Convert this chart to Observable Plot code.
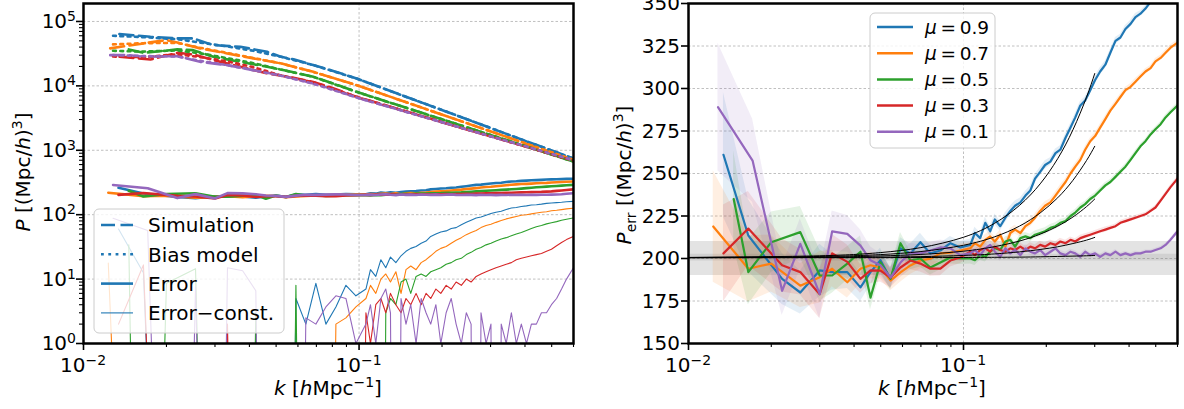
<!DOCTYPE html>
<html><head><meta charset="utf-8">
<script src="https://cdn.jsdelivr.net/npm/d3@7"></script>
<script src="https://cdn.jsdelivr.net/npm/@observablehq/plot@0.6"></script>
<style>
body{margin:0;background:#fff;}
#wrap{position:relative;width:1184px;height:409px;overflow:hidden;font-family:"DejaVu Sans";}
#wrap svg{position:absolute;}
</style></head><body><div id="wrap"></div>
<script>
// ---------- data ----------
const muLabels = ["0.9", "0.7", "0.5", "0.3", "0.1"];
const muColors = ["#1f77b4", "#ff7f0e", "#2ca02c", "#d62728", "#9467bd"];

// k grid shared by the error spectra (h/Mpc)
const kGrid = [0.0123,0.0128,0.0134,0.0146,0.0165,0.0171,0.0200,0.0219,0.0255,0.0300,0.0333,0.0378,0.0422,0.0459,
  0.0499,0.0543,0.0590,0.0641,0.0697,0.0758,0.0824,0.0896,0.0974,
  0.1059,0.110,0.115,0.120,0.125,0.130,0.136,0.142,0.148,0.154,0.161,0.168,0.175,0.182,0.190,0.198,0.207,0.216,0.225,0.235,
  0.245,0.255,0.266,0.277,0.289,0.301,0.314,0.328,0.342,0.357,0.372,0.388,0.405,0.422,0.440,0.459,0.479,0.499,0.521,0.543,0.566,0.600];

// P_err per mu (null = no value in that bin)
const perrMu09 = [null,null,261,null,213.5,null,null,188,180,193,192,192,183,192,
  199,188,206,203,209.6,203,204.7,209,206.5,
  208,215,212,221,216,223,219,224,228,231,233,237,240,247,251,255,257,262,264,271,
  277,283,290,293,299,305,310,314,321,328,330,335,338,342,344,347,351,353,355,357,360,362];
const perrMu07 = [218.8,null,null,null,194,null,197,null,184,189,194,186,194,196,
  194.7,187,191.8,195.9,198.8,199.9,203,203.5,204.7,
  206,209,207,211,213,210,214,207,215,217,215,219,221,224,228,231,233,237,241,245,
  250,254,258,264,269,272,277,282,287,291,295,299,301,304,307,310,312,316,318,321,324,327];
const perrMu05 = [null,null,null,235,192,null,209.6,null,215.5,190,190,197,204,177,
  197.8,188,209,198.8,200,194.7,197.6,200.6,200,
  200,199,202,201,204,206,205,210,211,207,212,213,212,214,215,216,218,219,221,222,
  225,227,230,232,235,237,240,243,245,248,251,254,258,262,266,269,273,276,279,283,286,290];
const perrMu03 = [null,null,203,null,217.6,null,null,196,192,179,203,198,188,193,
  192.9,188.8,194.7,198.8,197,194,194,198.8,200.6,
  204,202,205,206,204,207,205,204,206,205,207,205,207,206,208,207,209,208,210,209,
  211,210,212,213,214,215,216,217,218,219,221,222,223,224,225,226,228,230,234,238,242,247];
const perrMu01 = [null,289,null,null,null,257.6,null,181,208.6,179,216,214.5,207.6,199,
  196,188.8,197.6,203.5,203,204.7,206.5,206,202,
  203,205,202,206,208,204,201,206,203,205,202,206,204,203,205,202,204,206,203,202,
  204,203,201,204,202,203,201,203,202,204,202,203,202,203,203,204,204,205,206,208,211,216];
// relative half-width of the shaded scatter band, per k bin
const errFrac = [0.15,0.13,0.14,0.12,0.10,0.095,0.085,0.08,0.07,0.08,0.055,0.05,0.045,0.04,
  0.035,0.032,0.03,0.027,0.025,0.023,0.021,0.019,0.018,
  0.016,0.016,0.015,0.015,0.014,0.014,0.013,0.013,0.012,0.012,0.011,0.011,0.011,0.010,0.010,0.010,0.009,0.009,0.009,0.008,
  0.008,0.008,0.008,0.007,0.007,0.007,0.007,0.007,0.006,0.006,0.006,0.006,0.006,0.006,0.005,0.005,0.005,0.005,0.005,0.005,0.005,0.005];
const errConst = 201;

// simulation power spectra (left panel, dashed)
const simK = [0.0125,0.0135,0.0146,0.0165,0.0175,0.0200,0.0219,0.0250,0.0265,0.0296,0.0332,0.0371,0.0414,0.0464,
  0.0517,0.0578,0.0682,0.0800,0.098,0.13,0.17,0.23,0.32,0.42,0.5,0.6];
const simMu09 = [null,63700,null,null,57800,null,54600,54600,null,42900,null,40400,null,33800,
  28500,25800,21000,17200,13000,8320,5440,3380,2000,1300,990,743];
const simMu07 = [38200,null,null,45600,null,51400,47000,null,38200,null,31900,null,26700,null,
  22500,19800,16500,13400,10250,6760,4550,2910,1790,1200,929,712];
const simMu05 = [null,null,36800,32600,null,null,36800,35900,null,28300,null,23600,null,19800,
  18000,16300,13800,11000,8070,5460,3780,2500,1585,1090,858,670];
const simMu03 = [null,28300,null,null,25700,null,32600,30700,null,25100,null,19800,null,15600,
  14500,13300,11500,9300,6750,4730,3370,2290,1520,1080,866,690];
const simMu01 = [30000,null,30000,28300,null,null,29000,null,23600,null,21000,null,17500,null,
  14700,13000,10900,8900,6600,4650,3330,2290,1520,1090,878,700];

// bias model (left panel, dotted)
const biasK = [0.0128,0.0165,0.0219,0.0265,0.0332,0.0414,0.0517,0.0682,0.098,0.13,0.17,0.23,0.32,0.42,0.5,0.6];
const biasMu09 = [60000,57000,53000,47000,41000,35000,28500,21000,13000,8300,5450,3380,2000,1300,990,743];
const biasMu07 = [44000,46000,46500,39000,32500,27000,22500,16500,10250,6760,4550,2910,1790,1200,930,712];
const biasMu05 = [35000,34000,35500,32000,27000,22500,18000,13800,8070,5460,3780,2500,1585,1090,858,670];
const biasMu03 = [28500,28000,31000,28000,24000,19500,14600,11400,6750,4730,3370,2290,1520,1080,866,690];
const biasMu01 = [30000,29000,28500,24500,21000,17500,14500,10800,6600,4650,3330,2290,1520,1090,878,700];

// fitted curves (right panel, black)
const fitK = [0.01,0.03,0.05,0.07,0.1,0.13,0.16,0.19,0.22,0.25,0.28,0.3];
const fitMu09 = [200.6,201.6,203.5,206.4,212.5,220.8,231.3,243.9,258.7,275.7,294.8,308.8];
const fitMu07 = [200.6,201.2,202.3,204.1,207.8,212.8,219.1,226.8,235.7,246.0,257.6,266.0];
const fitMu05 = [200.5,200.8,201.5,202.4,204.3,207.0,210.3,214.3,219.0,224.4,230.5,235.0];
const fitMu03 = [200.5,200.6,200.8,201.1,201.8,202.7,203.9,205.3,206.9,208.8,210.8,212.4];
const fitMu01 = [200.5,200.5,200.5,200.6,200.6,200.7,200.8,201.0,201.2,201.4,201.6,201.8];

// shot-noise band (right panel)
const bandOuter = [190, 210];
const bandInner = [198.5, 202.5];

// axes
const kDomain = [0.01, 0.6];
const xMajor = [0.01, 0.1];
const xMinor = [0.02,0.03,0.04,0.05,0.06,0.07,0.08,0.09,0.2,0.3,0.4,0.5,0.6];
const leftYDomain = [1, 1.9e5];
const leftYMajor = [1, 10, 100, 1e3, 1e4, 1e5];
const leftYMinor = [2,3,4,5,6,7,8,9,20,30,40,50,60,70,80,90,200,300,400,500,600,700,800,900,
  2000,3000,4000,5000,6000,7000,8000,9000,20000,30000,40000,50000,60000,70000,80000,90000];
const rightYDomain = [150, 350];
const rightYMajor = [150, 175, 200, 225, 250, 275, 300, 325, 350];
const leftLegend = ["Simulation", "Bias model", "Error", "Error\u2212const."];

// ---------- helpers ----------
function rowsFrom(kArr, series) {
  const out = [];
  series.forEach((vals, i) => vals.forEach((v, j) => {
    if (v != null) out.push({mu: muLabels[i], k: kArr[j], v, j});
  }));
  return out;
}
const expOf = d => String(Math.round(Math.log10(d))).replace("-", "\u2212");

const perrRows = rowsFrom(kGrid, [perrMu09, perrMu07, perrMu05, perrMu03, perrMu01]);
const simRows = rowsFrom(simK, [simMu09, simMu07, simMu05, simMu03, simMu01]);
const biasRows = rowsFrom(biasK, [biasMu09, biasMu07, biasMu05, biasMu03, biasMu01]);
const fitRows = rowsFrom(fitK, [fitMu09, fitMu07, fitMu05, fitMu03, fitMu01]);

const colorScale = {domain: muLabels, range: muColors};
const gridStyle = {stroke: "#b0b0b0", strokeOpacity: 1, strokeWidth: 0.8, strokeDasharray: "2.5,2"};
const style = {fontFamily: "DejaVu Sans", fontSize: "20px", color: "black", background: "transparent", overflow: "visible"};

function axes(yMajor, yMinor) {
  return [
    Plot.axisX(xMajor, {tickSize: 7, strokeWidth: 1.6, fill: "none", label: null}),
    Plot.axisX(xMinor, {tickSize: 4, strokeWidth: 1.1, fill: "none", label: null}),
    Plot.axisY(yMajor, {tickSize: 7, strokeWidth: 1.6, fill: "none", label: null}),
    yMinor ? Plot.axisY(yMinor, {tickSize: 4, strokeWidth: 1.1, fill: "none", label: null}) : null,
    Plot.frame({stroke: "black", strokeWidth: 2.5})
  ];
}

// ---------- left panel ----------
const left = Plot.plot({
  width: 590, height: 409, marginLeft: 83, marginRight: 17, marginTop: 3, marginBottom: 66,
  style,
  x: {type: "log", domain: kDomain},
  y: {type: "log", domain: leftYDomain},
  color: colorScale,
  marks: [
    Plot.gridY(leftYMajor, gridStyle),
    Plot.gridX([0.1], gridStyle),
    Plot.line(simRows, {x: "k", y: "v", z: "mu", stroke: "mu", strokeWidth: 2.6, strokeDasharray: "14,5.5", clip: true}),
    Plot.line(biasRows, {x: "k", y: "v", z: "mu", stroke: "mu", strokeWidth: 2.6, strokeDasharray: "2.8,4.5", clip: true}),
    Plot.line(perrRows, {x: "k", y: "v", z: "mu", stroke: "mu", strokeWidth: 2.6, clip: true}),
    Plot.line(perrRows, {x: "k", y: d => Math.max(d.v - errConst, 1e-12), z: "mu", stroke: "mu", strokeWidth: 1.1, clip: true}),
    ...axes(leftYMajor, leftYMinor)
  ]
});
left.style.left = "0px"; left.style.top = "0px";

// ---------- right panel ----------
const bandRows = kDomain.map(k => ({k, lo: bandOuter[0], hi: bandOuter[1], lo2: bandInner[0], hi2: bandInner[1]}));
const right = Plot.plot({
  width: 584, height: 409, marginLeft: 88, marginRight: 7, marginTop: 3, marginBottom: 66,
  style,
  x: {type: "log", domain: kDomain},
  y: {domain: rightYDomain},
  color: colorScale,
  marks: [
    Plot.gridY(rightYMajor, gridStyle),
    Plot.gridX([0.1], gridStyle),
    Plot.areaY(bandRows, {x: "k", y1: "lo", y2: "hi", fill: "gray", fillOpacity: 0.22}),
    Plot.areaY(bandRows, {x: "k", y1: "lo2", y2: "hi2", fill: "gray", fillOpacity: 0.18}),
    Plot.areaY(perrRows, {x: "k", y1: d => d.v * (1 - errFrac[d.j]), y2: d => d.v * (1 + errFrac[d.j]), z: "mu", fill: "mu", fillOpacity: 0.12, clip: true}),
    Plot.line(perrRows, {x: "k", y: "v", z: "mu", stroke: "mu", strokeWidth: 2.2, clip: true}),
    Plot.line(fitRows, {x: "k", y: "v", z: "mu", stroke: "black", strokeWidth: 1, curve: "natural", clip: true}),
    ...axes(rightYMajor, null)
  ]
});
right.style.left = "600px"; right.style.top = "0px";

const wrap = document.getElementById("wrap");
wrap.appendChild(left);
wrap.appendChild(right);

// ---------- overlay: tick labels, axis labels and legends ----------
const ov = d3.select(wrap).append("svg").attr("width", 1184).attr("height", 409)
  .style("left", "0px").style("top", "0px").attr("font-family", "DejaVu Sans");

const TICK_FS = 20;
function powText(x, y, anchor, d) {
  const t = ov.append("text").attr("x", x).attr("y", y).attr("text-anchor", anchor).attr("font-size", TICK_FS).attr("fill", "black");
  t.append("tspan").text("10");
  t.append("tspan").attr("dy", -7).attr("font-size", 14).text(expOf(d));
}
const lx = left.scale("x"), ly = left.scale("y"), rx = right.scale("x"), ry = right.scale("y");
xMajor.forEach(d => { powText(lx.apply(d), 372, "middle", d); powText(600 + rx.apply(d), 372, "middle", d); });
leftYMajor.forEach(d => powText(76, ly.apply(d) + 7, "end", d));
rightYMajor.forEach(d => ov.append("text").attr("x", 680).attr("y", ry.apply(d) + 7)
  .attr("text-anchor", "end").attr("font-size", TICK_FS).attr("fill", "black").text(String(d)));

function label(x, y, rot, parts, size) {
  const t = ov.append("text").attr("transform", `translate(${x},${y}) rotate(${rot})`)
    .attr("text-anchor", "middle").attr("font-size", size).attr("fill", "black");
  for (const p of parts) {
    const ts = t.append("tspan").text(p.t);
    if (p.i) ts.attr("font-style", "italic");
    if (p.dy) ts.attr("dy", p.dy);
    if (p.s) ts.attr("font-size", p.s);
  }
}
const xLab = [{t: "k", i: 1}, {t: " ["}, {t: "h", i: 1}, {t: "Mpc"}, {t: "\u22121", dy: -8, s: 14}, {t: "]", dy: 8}];
label(328, 395, 0, xLab, 20);
label(932, 395, 0, xLab, 20);
label(30, 172, -90, [{t: "P", i: 1}, {t: " [(Mpc/"}, {t: "h", i: 1}, {t: ")"}, {t: "3", dy: -8, s: 14}, {t: "]", dy: 8}], 20);
label(631, 175, -90, [{t: "P", i: 1}, {t: "err", dy: 5, s: 14}, {t: " [(Mpc/", dy: -5}, {t: "h", i: 1}, {t: ")"}, {t: "3", dy: -8, s: 14}, {t: "]", dy: 8}], 20);

// left legend
const lg = ov.append("g");
lg.append("rect").attr("x", 94).attr("y", 209).attr("width", 190).attr("height", 124).attr("rx", 5)
  .attr("fill", "white").attr("fill-opacity", 0.8).attr("stroke", "#cccccc").attr("stroke-width", 1);
const lgStyles = [{w: 2.6, dash: "14,5.5"}, {w: 2.6, dash: "2.8,4.5"}, {w: 2.6, dash: null}, {w: 1.1, dash: null}];
leftLegend.forEach((name, i) => {
  const y = 225 + i * 29.3;
  const ln = lg.append("line").attr("x1", 101).attr("x2", 133).attr("y1", y).attr("y2", y)
    .attr("stroke", muColors[0]).attr("stroke-width", lgStyles[i].w);
  if (lgStyles[i].dash) ln.attr("stroke-dasharray", lgStyles[i].dash);
  lg.append("text").attr("x", 148).attr("y", y).attr("dy", "0.36em").attr("font-size", 20).text(name);
});

// right legend
const rg = ov.append("g");
rg.append("rect").attr("x", 870).attr("y", 13).attr("width", 125).attr("height", 135).attr("rx", 5)
  .attr("fill", "white").attr("fill-opacity", 0.8).attr("stroke", "#cccccc").attr("stroke-width", 1);
muLabels.forEach((m, i) => {
  const y = 27 + i * 26.2;
  rg.append("line").attr("x1", 877).attr("x2", 913).attr("y1", y).attr("y2", y)
    .attr("stroke", muColors[i]).attr("stroke-width", 2.5);
  const t = rg.append("text").attr("x", 925).attr("y", y).attr("dy", "0.36em").attr("font-size", 18.5);
  t.append("tspan").attr("font-style", "italic").text("\u03BC");
  t.append("tspan").text("\u2009=\u2009" + m);
});
</script></body></html>
